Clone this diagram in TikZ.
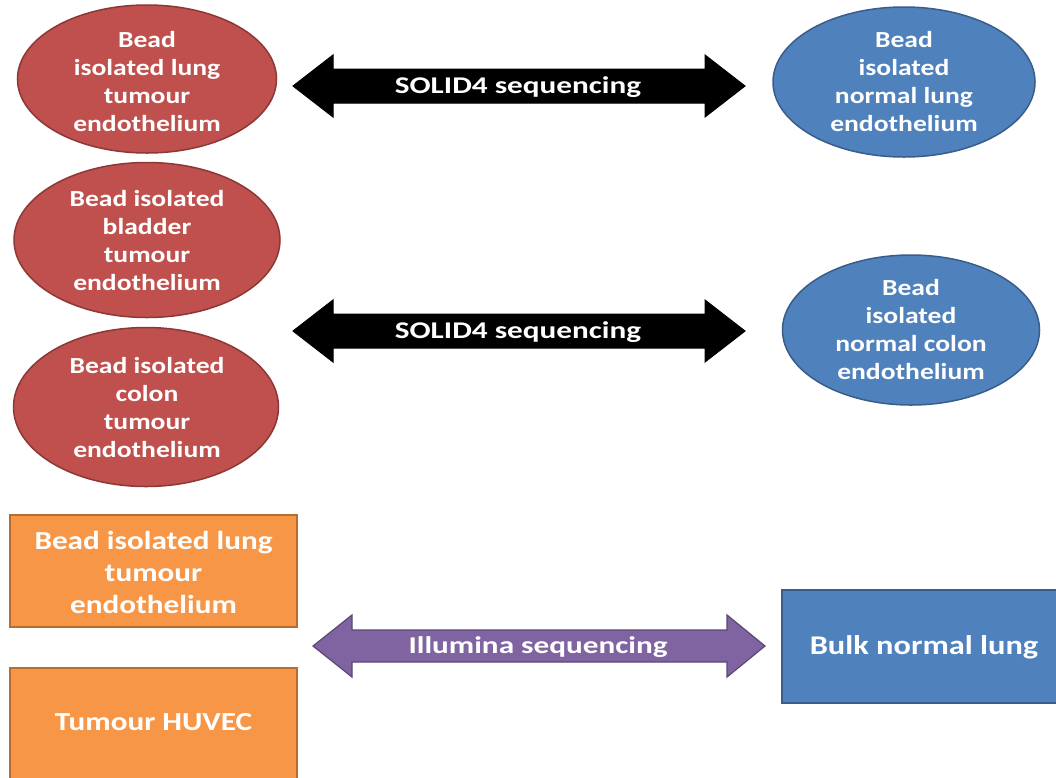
\documentclass[tikz,border=0pt]{standalone}
\usepackage{fontspec}
\setmainfont{Carlito}
\newfontfamily\widefont[FakeStretch=1.2]{Carlito}
\newfontfamily\widerfont[FakeStretch=1.3]{Carlito}
\usetikzlibrary{shapes.geometric}
\definecolor{redfill}{HTML}{C0504D}
\definecolor{redline}{HTML}{8C3836}
\definecolor{bluefill}{HTML}{4F81BD}
\definecolor{blueline}{HTML}{385D8A}
\definecolor{orangefill}{HTML}{F79646}
\definecolor{orangeline}{HTML}{B66D31}
\definecolor{purplefill}{HTML}{8064A2}
\definecolor{purpleline}{HTML}{5C4776}
\begin{document}
\begin{tikzpicture}[x=1pt,y=-1pt,
  redell/.style={ellipse,draw=redline,fill=redfill,line width=1.5pt,inner sep=0pt},
  blueell/.style={ellipse,draw=blueline,fill=bluefill,line width=1.5pt,inner sep=0pt},
  orbox/.style={rectangle,draw=orangeline,fill=orangefill,line width=1.5pt,inner sep=0pt},
  bluebox/.style={rectangle,draw=blueline,fill=bluefill,line width=1.5pt,inner sep=0pt},
  elltxt/.style={text=white,align=center,inner sep=0pt,font=\widefont\bfseries\fontsize{23}{28}\selectfont},
  boxtxt/.style={text=white,align=center,inner sep=0pt,font=\widefont\bfseries\fontsize{26}{32}\selectfont},
  arrtxt/.style={text=white,inner sep=0pt,font=\widerfont\bfseries\fontsize{24}{28}\selectfont},
  blkarrow/.style={fill=black,draw=black,line width=1pt,line join=miter},
  purarrow/.style={fill=purplefill,draw=purpleline,line width=1.2pt,line join=miter}
]
\useasboundingbox (0,0) rectangle (1056,777);
\fill[white] (0,0) rectangle (1056,777);

% red ellipses (tumour endothelium)
\node[redell,minimum width=259pt,minimum height=148pt] (r1) at (147,79) {};
\node[elltxt] (r1t) at (147,82) {Bead\\isolated lung\\tumour\\endothelium};
\node[redell,minimum width=266pt,minimum height=155pt] (r2) at (147,240) {};
\node[elltxt] (r2t) at (147,241) {Bead isolated\\bladder\\tumour\\endothelium};
\node[redell,minimum width=265pt,minimum height=159pt] (r3) at (146,407) {};
\node[elltxt] (r3t) at (147,408) {Bead isolated\\colon\\tumour\\endothelium};

% blue ellipses (normal endothelium)
\node[blueell,minimum width=262pt,minimum height=150pt] (b1) at (904,82) {};
\node[elltxt] (b1t) at (904,82) {Bead\\isolated\\normal lung\\endothelium};
\node[blueell,minimum width=257pt,minimum height=150pt] (b2) at (911,330) {};
\node[elltxt] (b2t) at (911,330) {Bead\\isolated\\normal colon\\endothelium};

% orange boxes
\node[orbox,minimum width=287pt,minimum height=112pt] (o1) at (153.5,571) {};
\node[boxtxt] (o1t) at (153.5,572) {Bead isolated lung\\tumour\\endothelium};
\node[orbox,minimum width=287pt,minimum height=114pt] (o2) at (153.5,725) {};
\node[boxtxt] (o2t) at (153.5,722) {Tumour HUVEC};

% bulk normal lung box
\node[bluebox,minimum width=284pt,minimum height=113pt] (bulk) at (924,646.5) {};
\node[boxtxt,font=\widefont\bfseries\fontsize{27}{32}\selectfont] (bulkt) at (924,647) {Bulk normal lung};

% black double arrows
\draw[blkarrow] (293,86) -- (333,55) -- (333,69) -- (705,69) -- (705,55) -- (745,86)
  -- (705,117) -- (705,103) -- (333,103) -- (333,117) -- cycle;
\node[arrtxt] (a1t) at (518,87) {SOLID4 sequencing};

\draw[blkarrow] (293,331) -- (333,300) -- (333,314) -- (705,314) -- (705,300) -- (745,331)
  -- (705,362) -- (705,348) -- (333,348) -- (333,362) -- cycle;
\node[arrtxt] (a2t) at (518,332) {SOLID4 sequencing};

% purple double arrow
\draw[purarrow] (313,646) -- (352,615) -- (352,630) -- (727,630) -- (727,615) -- (765,646)
  -- (727,677) -- (727,662) -- (352,662) -- (352,677) -- cycle;
\node[arrtxt] (a3t) at (538,647) {Illumina sequencing};
\end{tikzpicture}
\end{document}
